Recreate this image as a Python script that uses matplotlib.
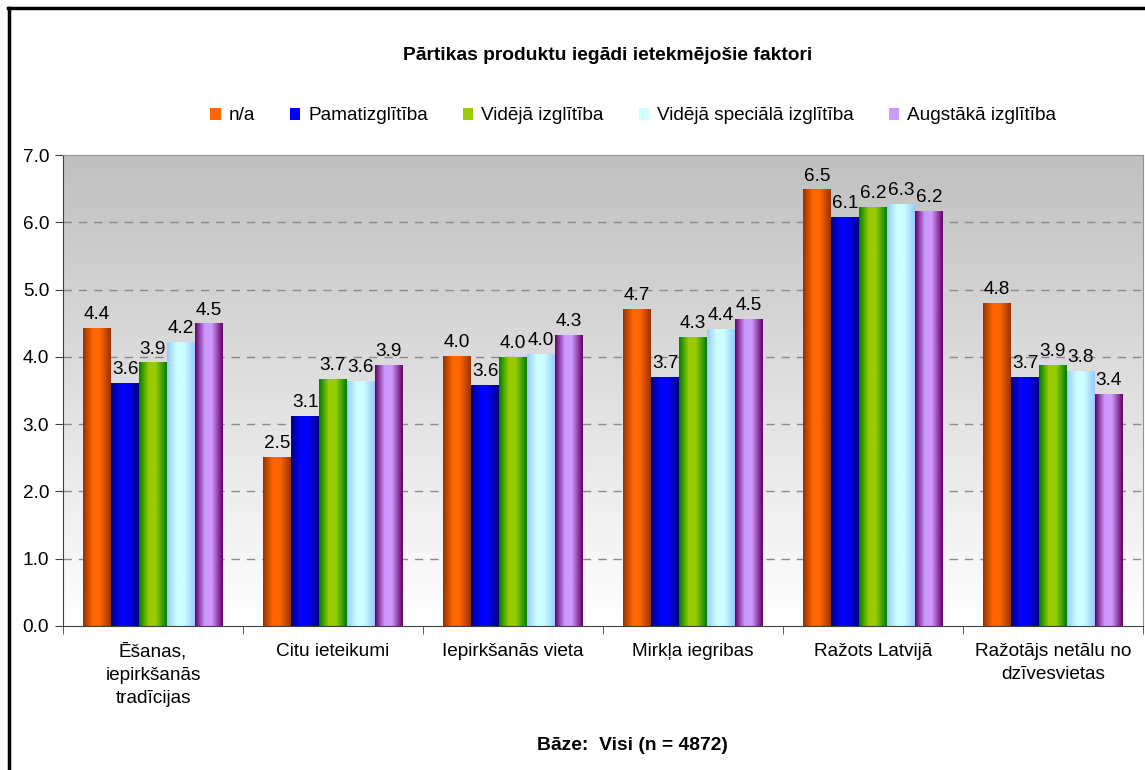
import numpy as np
import matplotlib
matplotlib.use('Agg')
import matplotlib.pyplot as plt
from matplotlib.colors import LinearSegmentedColormap
from matplotlib.lines import Line2D

plt.rcParams['font.family'] = ['Liberation Sans', 'DejaVu Sans']

title = 'Pārtikas produktu iegādi ietekmējošie faktori'
base_text = 'Bāze:  Visi (n = 4872)'
categories = ['Ēšanas,\niepirkšanās\ntradīcijas', 'Citu ieteikumi',
              'Iepirkšanās vieta', 'Mirkļa iegribas', 'Ražots Latvijā',
              'Ražotājs netālu no\ndzīvesvietas']
series = ['n/a', 'Pamatizglītība', 'Vidējā izglītība',
          'Vidējā speciālā izglītība', 'Augstākā izglītība']
values = [
    [4.42, 2.51, 4.00, 4.71, 6.48, 4.79],
    [3.60, 3.12, 3.57, 3.69, 6.07, 3.69],
    [3.91, 3.67, 3.99, 4.29, 6.22, 3.87],
    [4.21, 3.63, 4.03, 4.41, 6.26, 3.78],
    [4.49, 3.87, 4.32, 4.55, 6.16, 3.44],
]
# (dark edge, light centre) for each series
colors = [('#993300', '#FF6600'), ('#000080', '#0000FF'),
          ('#008000', '#99CC00'), ('#99CCFF', '#CCFFFF'),
          ('#660066', '#CC99FF')]
fs = 13.7

fig = plt.figure(figsize=(11.45, 7.7), dpi=100)
ax = fig.add_axes([63 / 1145, 1 - 626 / 770, 1080 / 1145, 471 / 770])

# background gradient
bg = np.linspace(0, 1, 256).reshape(-1, 1)
bg_cmap = LinearSegmentedColormap.from_list('bg', ['#C0C0C0', '#FFFFFF'])
ax.imshow(bg, cmap=bg_cmap, extent=[0, 1, 0, 1], transform=ax.transAxes,
          aspect='auto', zorder=0)

x = np.arange(len(categories))
width = 0.155
for i, (name, vals) in enumerate(zip(series, values)):
    dark, light = colors[i]
    offs = (i - 2) * width
    bars = ax.bar(x + offs, vals, width, color=light, label=name, zorder=2)
    cmap = LinearSegmentedColormap.from_list(
        name, [(0, dark), (0.35, light), (0.6, light), (1, dark)])
    grad = np.linspace(0, 1, 64).reshape(1, -1)
    for b in bars:
        x0, w, h = b.get_x(), b.get_width(), b.get_height()
        ax.imshow(grad, cmap=cmap, extent=[x0, x0 + w, 0, h],
                  aspect='auto', zorder=2.5)
        ax.text(x0 + w / 2, h + 0.08, '%.1f' % h, ha='center', va='bottom',
                fontsize=fs, color='black', zorder=4)

ax.set_xlim(-0.5, len(categories) - 0.5)
ax.set_ylim(0, 7)
ax.set_yticks(np.arange(0, 8, 1))
ax.set_yticklabels(['%.1f' % v for v in np.arange(0, 8, 1)], fontsize=fs)
ax.set_xticks(x)
ax.set_xticklabels(categories, fontsize=fs, linespacing=1.5)
ax.set_xticks(np.arange(-0.5, len(categories), 1), minor=True)
ax.tick_params(axis='x', which='major', length=0, pad=12)
ax.tick_params(axis='x', which='minor', length=6, color='#404040')
ax.tick_params(axis='y', length=6, color='#404040', pad=4)

for y in range(1, 7):
    ax.axhline(y, color='#8a8a8a', lw=1, ls=(0, (6, 5)), zorder=1)

ax.spines['left'].set_color('#404040')
ax.spines['bottom'].set_color('#404040')
ax.spines['top'].set_color('#909090')
ax.spines['right'].set_color('#909090')

fig.text(608 / 1145, 1 - 55 / 770, title, ha='center', va='center',
         fontsize=13.9, fontweight='bold')
fig.text(632 / 1145, 1 - 745 / 770, base_text, ha='center', va='center',
         fontsize=13.9, fontweight='bold')

handles, labels = ax.get_legend_handles_labels()
fig.legend(handles, labels, loc='center', bbox_to_anchor=(633 / 1145, 1 - 116 / 770),
           ncol=5, frameon=False, fontsize=fs, handlelength=0.55,
           handleheight=0.6, handletextpad=0.4, columnspacing=1.85)

# outer frame (top and left)
fig.add_artist(Line2D([8 / 1145, 1], [1 - 8 / 770, 1 - 8 / 770],
                      color='black', lw=2.5, transform=fig.transFigure))
fig.add_artist(Line2D([9 / 1145, 9 / 1145], [0, 1 - 8 / 770],
                      color='black', lw=2.5, transform=fig.transFigure))

fig.savefig('out.png', dpi=100)
